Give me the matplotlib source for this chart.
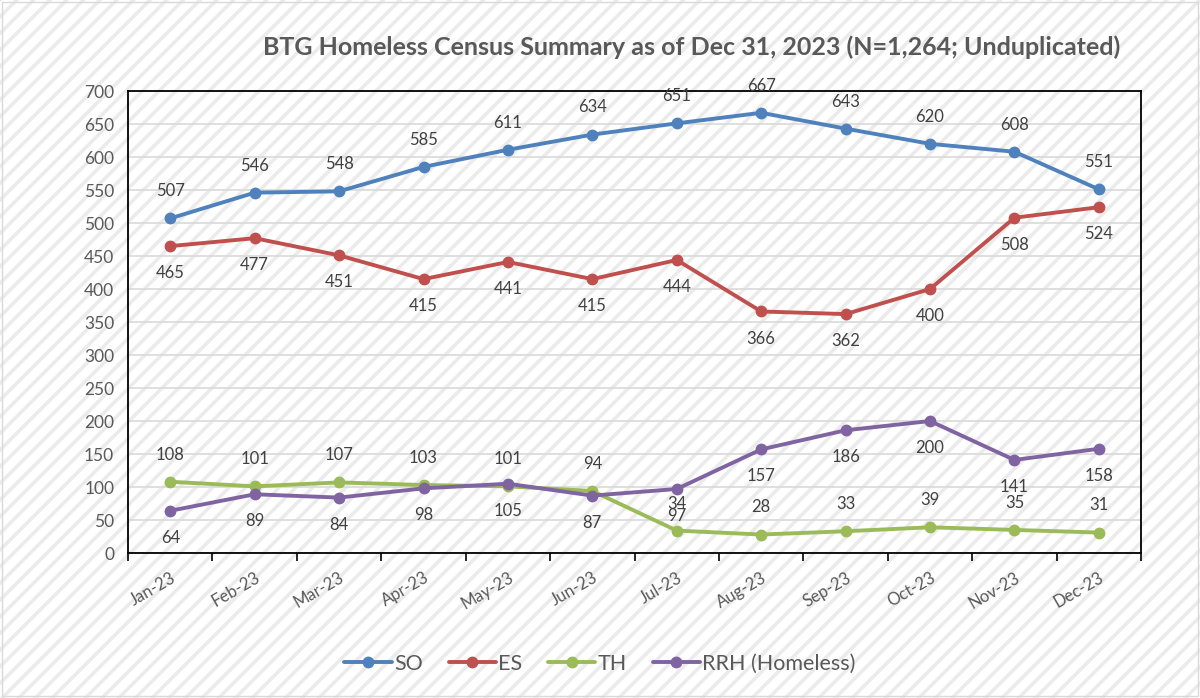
import matplotlib.pyplot as plt

plt.rcParams['font.family'] = ['Lato', 'DejaVu Sans']
plt.rcParams['hatch.linewidth'] = 2.5

# data
months = ['Jan-23', 'Feb-23', 'Mar-23', 'Apr-23', 'May-23', 'Jun-23',
          'Jul-23', 'Aug-23', 'Sep-23', 'Oct-23', 'Nov-23', 'Dec-23']
so = [507, 546, 548, 585, 611, 634, 651, 667, 643, 620, 608, 551]
es = [465, 477, 451, 415, 441, 415, 444, 366, 362, 400, 508, 524]
th = [108, 101, 107, 103, 101, 94, 34, 28, 33, 39, 35, 31]
rrh = [64, 89, 84, 98, 105, 87, 97, 157, 186, 200, 141, 158]

series = [
    ('SO', so, '#4f81bd', 'above'),
    ('ES', es, '#c0504d', 'below'),
    ('TH', th, '#9bbb59', 'above'),
    ('RRH (Homeless)', rrh, '#8064a2', 'below'),
]

fig = plt.figure(figsize=(12, 6.98), dpi=100)
fig.patch.set_facecolor('white')
fig.patch.set_edgecolor('#ebebeb')
fig.patch.set_hatch('//')
fig.patch.set_linewidth(0)

# light outer border
border = plt.Rectangle((0.002, 0.003), 0.996, 0.994, transform=fig.transFigure,
                       fill=False, edgecolor='#d9d9d9', linewidth=1)
fig.add_artist(border)

ax = fig.add_axes([0.1067, 0.2077, 0.8442, 0.6619])
ax.set_facecolor('none')

x = list(range(len(months)))
for name, vals, color, pos in series:
    ax.plot(x, vals, color=color, linewidth=2.8, marker='o', markersize=7.5,
            label=name, solid_capstyle='round', zorder=3)
    for xi, v in zip(x, vals):
        off = 19.5 if pos == 'above' else -19.5
        ax.annotate(str(v), (xi, v), xytext=(0, off), textcoords='offset points',
                    ha='center', va='center', fontsize=12, color='#404040',
                    annotation_clip=False, zorder=5)

ax.set_xlim(-0.5, len(months) - 0.5)
ax.set_ylim(0, 700)
ax.set_yticks(range(0, 701, 50))
ax.set_xticks([i - 0.5 for i in range(len(months) + 1)], minor=False)
ax.set_xticklabels([])
ax.set_xticks(x, minor=True)
ax.set_xticklabels(months, minor=True, rotation=30, ha='right',
                   rotation_mode='anchor', fontsize=12, color='#595959')
ax.tick_params(axis='x', which='major', length=6, width=1.2, direction='out')
ax.tick_params(axis='x', which='minor', length=0, pad=12)
ax.tick_params(axis='y', length=0, labelsize=12.5, colors='#595959', pad=10)

ax.grid(axis='y', color='#d9d9d9', linewidth=1.2)
ax.set_axisbelow(True)
for s in ax.spines.values():
    s.set_color('black')
    s.set_linewidth(1.3)
    s.set_zorder(2)

fig.text(0.576, 0.932, 'BTG Homeless Census Summary as of Dec 31, 2023 (N=1,264; Unduplicated)',
         ha='center', va='center', fontsize=18, fontweight='bold', color='#595959')

fig.legend(loc='center', bbox_to_anchor=(0.5, 0.049), ncol=4, frameon=False,
           fontsize=15.5, labelcolor='#595959', handlelength=2.2,
           handletextpad=0.1, columnspacing=1.2)

plt.savefig('out.png', dpi=100)
